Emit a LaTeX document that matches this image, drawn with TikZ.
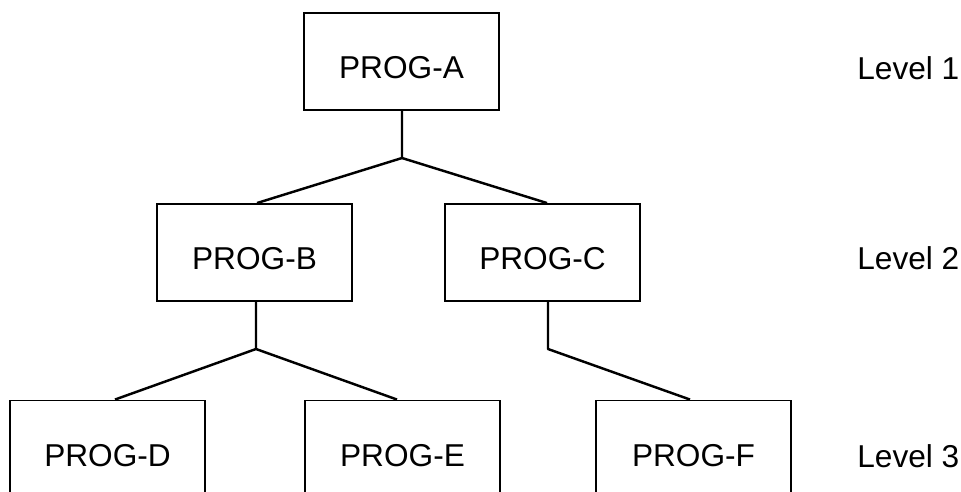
\documentclass[tikz,border=0pt]{standalone}
\usepackage{fontspec}
\setmainfont{Liberation Sans}
\usetikzlibrary{shapes, arrows}
\tikzstyle{prog} = [rectangle, minimum width=3.9cm, minimum height=1.94cm, text height=0.68cm, text depth=0pt, inner sep=0pt, draw=black, line width=1.1pt, font=\fontsize{18}{20}\selectfont]
\tikzstyle{level} = [anchor=base west, inner sep=0pt, font=\fontsize{18}{20}\selectfont]
\tikzstyle{link} = [line width=1.4pt, line join=round]

\begin{document}
\begin{tikzpicture}[x=0.02cm, y=-0.02cm]
\useasboundingbox (0,0) rectangle (961,491);
\clip (0,0) rectangle (961,491);
% boxes
\node[prog] (A) at (401.5,61.5) {PROG-A};
\node[prog] (B) at (254.5,252.5) {PROG-B};
\node[prog] (C) at (542.5,252.5) {PROG-C};
\node[prog] (D) at (107.5,449) {PROG-D};
\node[prog] (E) at (402.5,449) {PROG-E};
\node[prog] (F) at (693.5,449) {PROG-F};
% levels
\node[level] (L1) at (857,79) {Level 1};
\node[level] (L2) at (857,269) {Level 2};
\node[level] (L3) at (857,467) {Level 3};
% links
\coordinate (jA) at (402,158);
\coordinate (jB) at (256,349);
\coordinate (jC) at (548,349);
\draw[link] (A.south -| jA) -- (jA) -- ([xshift=0.05cm]B.north);
\draw[link] (jA) -- ([xshift=0.09cm]C.north);
\draw[link] (B.south -| jB) -- (jB) -- ([xshift=0.15cm]D.north);
\draw[link] (jB) -- ([xshift=-0.11cm]E.north);
\draw[link] (C.south -| jC) -- (jC) -- ([xshift=-0.07cm]F.north);
\end{tikzpicture}
\end{document}
